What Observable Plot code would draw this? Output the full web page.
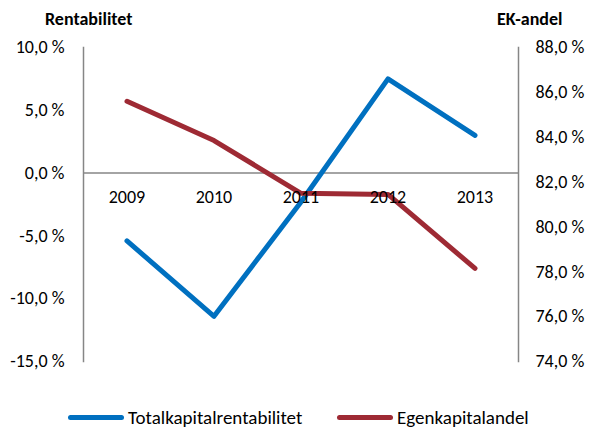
<!DOCTYPE html>
<html>
<head>
<meta charset="utf-8">
<script src="https://cdn.jsdelivr.net/npm/d3@7"></script>
<script src="https://cdn.jsdelivr.net/npm/@observablehq/plot@0.6"></script>
<style>
  body { margin: 0; background: #fff; font-family: Carlito, Lato, "Liberation Sans", sans-serif; }
  #wrap { position: relative; width: 589px; height: 428px; overflow: hidden; }
  .ttl { position: absolute; top: 8px; font-weight: bold; font-size: 18px; line-height: 22px; color: #000; }
  #legend { position: absolute; top: 408px; left: 0; width: 589px; height: 19px; font-size: 19px; line-height: 19px; color: #000; }
  .item { position: absolute; top: 0; height: 19px; display: flex; align-items: center; white-space: nowrap; }
  .sw { display: inline-block; width: 56px; height: 5px; border-radius: 3px; margin-right: 4px; }
</style>
</head>
<body>
<div id="wrap">
  <div class="ttl" style="left:45px">Rentabilitet</div>
  <div class="ttl" style="left:497px">EK-andel</div>
  <div id="chart"></div>
  <div id="legend"></div>
</div>
<script>
const years = ["2009", "2010", "2011", "2012", "2013"];
const totalkapitalrentabilitet = [-5.4, -11.4, -2.3, 7.5, 3.0];
const egenkapitalandel = [85.6, 83.85, 81.5, 81.45, 78.15];
const leftTicks = [-15, -10, -5, 0, 5, 10];
const rightTicks = [74, 76, 78, 80, 82, 84, 86, 88];
const seriesNames = ["Totalkapitalrentabilitet", "Egenkapitalandel"];
const colors = ["#0070C0", "#9E2A34"];

// map right axis (74..88) onto left axis domain (-15..10)
const toLeft = v => (v - 74) / 14 * 25 - 15;
const fromLeft = v => (v + 15) / 25 * 14 + 74;
const fmt = v => v.toFixed(1).replace(".", ",") + " %";

const blue = years.map((y, i) => ({year: y, v: totalkapitalrentabilitet[i]}));
const red = years.map((y, i) => ({year: y, v: toLeft(egenkapitalandel[i])}));

const plot = Plot.plot({
  width: 589,
  height: 400,
  marginTop: 47,
  marginBottom: 39,
  marginLeft: 83,
  marginRight: 71,
  style: {fontFamily: "Carlito, Lato, 'Liberation Sans', sans-serif", fontSize: "18px", color: "#000", background: "#fff"},
  x: {type: "band", domain: years, padding: 0, axis: null},
  y: {domain: [-15, 10], axis: null},
  marks: [
    Plot.axisY({anchor: "left", label: null, ticks: leftTicks, tickSize: 0, tickPadding: 19, tickFormat: fmt, fontSize: 18}),
    Plot.axisY({anchor: "right", label: null, ticks: rightTicks.map(toLeft), tickSize: 0, tickPadding: 17, tickFormat: d => fmt(fromLeft(d)), fontSize: 18}),
    Plot.frame({anchor: "left", stroke: "#868686", strokeWidth: 1.5}),
    Plot.frame({anchor: "right", stroke: "#868686", strokeWidth: 1.5}),
    Plot.ruleY([0], {stroke: "#868686", strokeWidth: 1.5}),
    Plot.line(blue, {x: "year", y: "v", stroke: colors[0], strokeWidth: 5, strokeLinecap: "round", strokeLinejoin: "round"}),
    Plot.line(red, {x: "year", y: "v", stroke: colors[1], strokeWidth: 5, strokeLinecap: "round", strokeLinejoin: "round"}),
    Plot.text(years, {x: d => d, y: () => 0, dy: 24, fontSize: 18, fill: "#000"})
  ]
});
document.getElementById("chart").appendChild(plot);

const legend = document.getElementById("legend");
const lefts = [68, 337];
seriesNames.forEach((n, i) => {
  const it = document.createElement("div");
  it.className = "item";
  it.style.left = lefts[i] + "px";
  it.innerHTML = `<span class="sw" style="background:${colors[i]}"></span><span>${n}</span>`;
  legend.appendChild(it);
});
</script>
</body>
</html>
